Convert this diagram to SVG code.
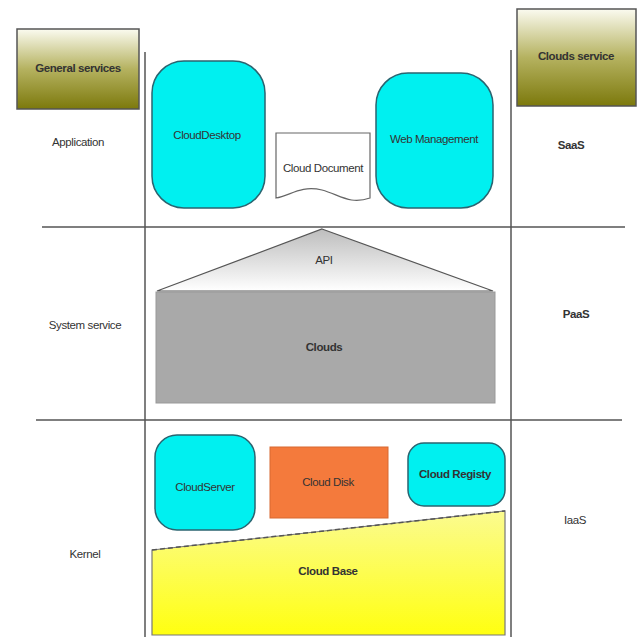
<svg xmlns="http://www.w3.org/2000/svg" width="638" height="637" viewBox="0 0 638 637">
<style>
.t{font-family:"Liberation Sans",Arial,sans-serif;font-size:11.5px;letter-spacing:-0.4px;fill:#333;text-anchor:middle;dominant-baseline:middle}
.b{font-weight:bold}
.cy{fill:#00f0f0;stroke:#2a6470;stroke-width:1.5}
.hdr{stroke:#555;stroke-width:1.5}
.ln{stroke:#555;stroke-width:1.5;fill:none}
</style>
<defs>
<linearGradient id="olive" x1="0" y1="0" x2="0" y2="1">
<stop offset="0" stop-color="#fbfbf0"/>
<stop offset="0.5" stop-color="#b5b260"/>
<stop offset="1" stop-color="#7c790c"/>
</linearGradient>
<linearGradient id="api" x1="0" y1="0" x2="0" y2="1">
<stop offset="0" stop-color="#bdbdbd"/>
<stop offset="1" stop-color="#ffffff"/>
</linearGradient>
<linearGradient id="yel" x1="0" y1="0" x2="0" y2="1">
<stop offset="0" stop-color="#fbfb90"/>
<stop offset="1" stop-color="#ffff10"/>
</linearGradient>
</defs>
<rect width="638" height="637" fill="#fff"/>
<g id="connectors">
<line class="ln" x1="145" y1="52" x2="145" y2="637"/>
<line class="ln" x1="511" y1="50" x2="511" y2="637"/>
<line class="ln" x1="42" y1="227" x2="625" y2="227"/>
<line class="ln" x1="36" y1="420" x2="622" y2="420"/>
</g>
<g id="general-services">
<rect class="hdr" x="17" y="29" width="122" height="80" fill="url(#olive)"/>
<text class="t b" x="78" y="69">General services</text>
</g>
<g id="clouds-service">
<rect class="hdr" x="517" y="9" width="119" height="97" fill="url(#olive)"/>
<text class="t b" x="576" y="57">Clouds service</text>
</g>
<g id="application"><text class="t" x="78" y="143">Application</text></g>
<g id="system-service"><text class="t" x="85" y="326">System service</text></g>
<g id="kernel"><text class="t" x="85" y="555">Kernel</text></g>
<g id="saas"><text class="t b" x="571" y="146">SaaS</text></g>
<g id="paas"><text class="t b" x="576" y="315">PaaS</text></g>
<g id="iaas"><text class="t" x="575" y="521">IaaS</text></g>
<g id="cloud-desktop">
<rect class="cy" x="152" y="61" width="113" height="147" rx="32"/>
<text class="t" x="207" y="136">CloudDesktop</text>
</g>
<g id="cloud-document">
<path d="M276,133 H370 V198 C350,205 340,195 322,190 C300,185 290,196 276,198 Z" fill="#fff" stroke="#666" stroke-width="1.2"/>
<text class="t" x="323" y="169">Cloud Document</text>
</g>
<g id="web-management">
<rect class="cy" x="376" y="73" width="117" height="135" rx="32"/>
<text class="t" x="434" y="140">Web Management</text>
</g>
<g id="api">
<polygon points="322,229 493,291 157,291" fill="url(#api)" stroke="#555" stroke-width="1.2"/>
<text class="t" x="324" y="261">API</text>
</g>
<g id="clouds">
<rect x="156" y="292" width="339" height="111" fill="#a9a9a9" stroke="#999"/>
<text class="t b" x="324" y="348">Clouds</text>
</g>
<g id="cloud-server">
<rect class="cy" x="155" y="435" width="100" height="95" rx="22"/>
<text class="t" x="205" y="488">CloudServer</text>
</g>
<g id="cloud-disk">
<rect x="270" y="447" width="118" height="71" fill="#f47a3c" stroke="#d86830"/>
<text class="t" x="328" y="483">Cloud Disk</text>
</g>
<g id="cloud-registy">
<rect class="cy" x="408" y="443" width="97" height="63" rx="16"/>
<text class="t b" x="455" y="475">Cloud Registy</text>
</g>
<g id="cloud-base">
<polygon points="152,550 505,511 505,635 152,635" fill="url(#yel)" stroke="#777" stroke-width="1.2"/>
<line x1="152" y1="550" x2="505" y2="511" stroke="#555" stroke-width="1.5" stroke-dasharray="5,3"/>
<text class="t b" x="328" y="572">Cloud Base</text>
</g>
</svg>
